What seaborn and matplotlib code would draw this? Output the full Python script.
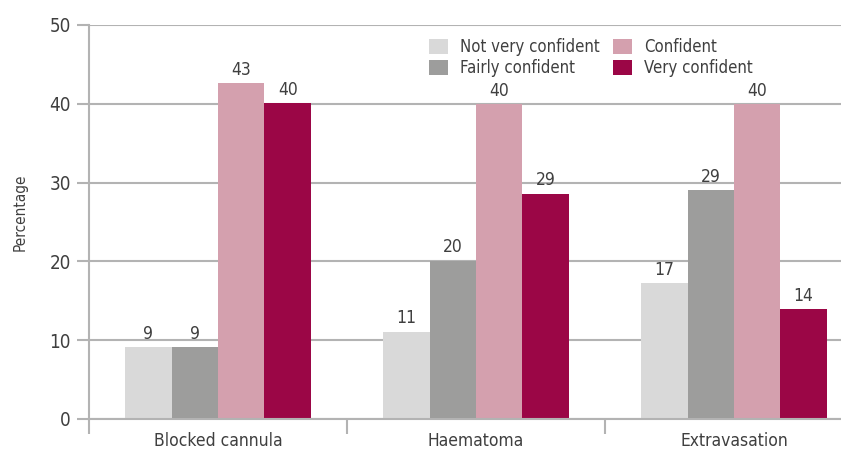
import matplotlib
matplotlib.use("Agg")
import matplotlib.pyplot as plt
import seaborn as sns
import pandas as pd
from matplotlib.ticker import FixedLocator

# Confidence in managing complications, % of respondents
complications = ["Blocked cannula", "Haematoma", "Extravasation"]
levels = ["Not very confident", "Fairly confident", "Confident", "Very confident"]
not_very_confident = [9.1, 11.1, 17.2]
fairly_confident = [9.1, 20.1, 29.0]
confident = [42.6, 40.0, 40.0]
very_confident = [40.1, 28.6, 13.9]
y_ticks = [0, 10, 20, 30, 40, 50]

colors = ["#d9d9d9", "#9d9d9c", "#d4a0ae", "#9b0646"]

rows = []
for series_name, values in zip(levels, [not_very_confident, fairly_confident, confident, very_confident]):
    for comp, v in zip(complications, values):
        rows.append({"Complication": comp, "Level": series_name, "Percentage": v})
df = pd.DataFrame(rows)

sns.set_theme(style="white")
plt.rcParams["font.family"] = ["DejaVu Sans", "Roboto"]
plt.rcParams["font.stretch"] = "condensed"
text_color = "#3f3f3f"
line_color = "#b3b3b3"

fig = plt.figure(figsize=(8.41, 4.5), dpi=100)
ax = fig.add_axes([89 / 841, 1 - 419 / 450, (863 - 89) / 841, (419 - 25) / 450])

sns.barplot(data=df, x="Complication", y="Percentage", hue="Level",
            order=complications, hue_order=levels, palette=colors,
            width=0.72, dodge=True, saturation=1, linewidth=0, ax=ax)

for container in ax.containers:
    ax.bar_label(container, fmt="%.0f", padding=3, fontsize=12.5, color=text_color)

ax.set_ylim(0, 50)
ax.set_xlim(-0.5, 2.5)
ax.yaxis.set_major_locator(FixedLocator(y_ticks))
ax.grid(axis="y", color=line_color, linewidth=1.5)
ax.set_axisbelow(True)

for side in ["top", "right"]:
    ax.spines[side].set_visible(False)
for side in ["left", "bottom"]:
    ax.spines[side].set_color(line_color)
    ax.spines[side].set_linewidth(1.5)

ax.tick_params(axis="y", which="major", length=9, width=1.5, color=line_color,
               labelsize=13.5, labelcolor=text_color, left=True, pad=4)
ax.tick_params(axis="x", which="major", length=0, labelsize=12.5, labelcolor=text_color, pad=9)
ax.xaxis.set_minor_locator(FixedLocator([-0.5, 0.5, 1.5, 2.5]))
ax.tick_params(axis="x", which="minor", length=11, width=1.5, color=line_color, bottom=True)

ax.set_xlabel("")
ax.set_ylabel("Percentage", fontsize=11, color=text_color)
ax.yaxis.set_label_coords(-0.079, 0.525)

handles, labels = ax.get_legend_handles_labels()
ax.legend(handles, labels, ncol=2, frameon=False, fontsize=12,
          loc="upper left", bbox_to_anchor=(0.4225, 1.0),
          handlelength=1.1, handleheight=1.0, handletextpad=0.75,
          columnspacing=0.8, labelspacing=0.15, labelcolor=text_color,
          borderaxespad=0.4)

fig.savefig("out.png", dpi=100)
